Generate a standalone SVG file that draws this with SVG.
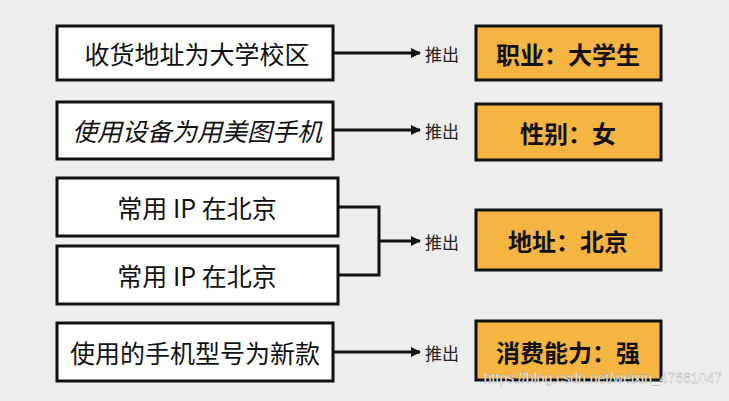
<svg xmlns="http://www.w3.org/2000/svg" width="729" height="401" viewBox="0 0 729 401">
<defs><marker id="ah" markerWidth="10" markerHeight="10" refX="9" refY="5" orient="auto" markerUnits="userSpaceOnUse"><path d="M0,0 L10,5 L0,10 z" fill="#111"/></marker></defs>
<style>
.l{fill:#fff;stroke:#111;stroke-width:3}
.r{fill:#f6b440;stroke:#111;stroke-width:3}
.t{font-family:"Noto Sans CJK SC","Noto Sans",sans-serif;font-size:25px;fill:#111;text-anchor:middle;dominant-baseline:central}
.b{font-weight:bold;font-size:24px}
.p{font-family:"Noto Sans CJK SC",sans-serif;font-size:17px;fill:#222;dominant-baseline:central}
.c{fill:none;stroke:#111;stroke-width:3}
</style>
<rect width="729" height="401" fill="#ededed"/>
<g id="n1"><rect class="l" x="57" y="26" width="276" height="54"/><text class="t" x="197" y="53">收货地址为大学校区</text></g>
<g id="n2"><rect class="l" x="57" y="102" width="276" height="57"/><text class="t" x="197" y="130" font-style="italic">使用设备为用美图手机</text></g>
<g id="n3"><rect class="l" x="57" y="178" width="281" height="58"/><text class="t" x="197" y="207">常用 IP 在北京</text></g>
<g id="n4"><rect class="l" x="57" y="246" width="281" height="58"/><text class="t" x="197" y="275">常用 IP 在北京</text></g>
<g id="n5"><rect class="l" x="57" y="323" width="276" height="58"/><text class="t" x="195" y="352">使用的手机型号为新款</text></g>
<g id="r1"><rect class="r" x="476" y="26" width="185" height="54"/><text class="t b" x="568" y="53">职业：大学生</text></g>
<g id="r2"><rect class="r" x="476" y="104" width="185" height="56"/><text class="t b" x="568" y="132">性别：女</text></g>
<g id="r3"><rect class="r" x="476" y="210" width="185" height="60"/><text class="t b" x="568" y="240">地址：北京</text></g>
<g id="r4"><rect class="r" x="476" y="321" width="185" height="59"/><text class="t b" x="568" y="351">消费能力：强</text></g>
<g id="connectors">
<path class="c" d="M333,53 H420" marker-end="url(#ah)"/>
<path class="c" d="M333,130 H420" marker-end="url(#ah)"/>
<path class="c" d="M338,207 H379 V275 H338"/>
<path class="c" d="M379,241 H420" marker-end="url(#ah)"/>
<path class="c" d="M333,352 H420" marker-end="url(#ah)"/>
<text class="p" x="425" y="53">推出</text>
<text class="p" x="425" y="130">推出</text>
<text class="p" x="425" y="241">推出</text>
<text class="p" x="425" y="352">推出</text>
</g>
<text x="722" y="383" font-family="Liberation Sans,sans-serif" font-size="14" fill="#fff" stroke="#999" stroke-width="0.3" text-anchor="end">https://blog.csdn.net/weixin_47661047</text>
</svg>
